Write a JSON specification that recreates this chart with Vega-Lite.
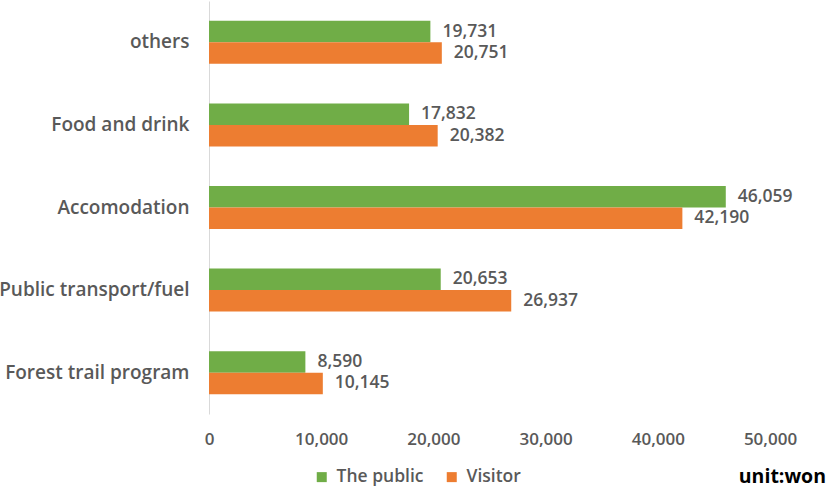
{
  "$schema": "https://vega.github.io/schema/vega-lite/v6.json",
  "width": 561,
  "height": 413,
  "autosize": {"type": "none"},
  "padding": {"left": 209, "top": 1, "right": 57, "bottom": 74},
  "background": "white",
  "config": {
    "view": {"stroke": null},
    "font": "Open Sans"
  },
  "title": {
    "text": "unit:won",
    "orient": "bottom",
    "anchor": "end",
    "frame": "group",
    "dx": 56,
    "dy": -20,
    "offset": 2,
    "fontSize": 19.5,
    "fontWeight": "bold",
    "color": "#000000",
    "font": "Open Sans"
  },
  "data": {
    "values": [
      {"category": "others", "series": "The public", "value": 19731},
      {"category": "others", "series": "Visitor", "value": 20751},
      {"category": "Food and drink", "series": "The public", "value": 17832},
      {"category": "Food and drink", "series": "Visitor", "value": 20382},
      {"category": "Accomodation", "series": "The public", "value": 46059},
      {"category": "Accomodation", "series": "Visitor", "value": 42190},
      {"category": "Public transport/fuel", "series": "The public", "value": 20653},
      {"category": "Public transport/fuel", "series": "Visitor", "value": 26937},
      {"category": "Forest trail program", "series": "The public", "value": 8590},
      {"category": "Forest trail program", "series": "Visitor", "value": 10145}
    ]
  },
  "encoding": {
    "y": {
      "field": "category",
      "type": "nominal",
      "sort": ["others", "Food and drink", "Accomodation", "Public transport/fuel", "Forest trail program"],
      "scale": {"paddingInner": 0.479, "paddingOuter": 0.24},
      "axis": {
        "title": null,
        "ticks": false,
        "domainColor": "#d9d9d9",
        "domainWidth": 1,
        "labelFontSize": 19,
        "labelFontWeight": 600,
        "labelColor": "#595959",
        "labelPadding": 20,
        "labelLimit": 260,
        "labelFont": "Open Sans"
      }
    },
    "yOffset": {"field": "series", "type": "nominal", "sort": ["The public", "Visitor"]},
    "x": {
      "field": "value",
      "type": "quantitative",
      "scale": {"domain": [0, 50000], "nice": false},
      "axis": {
        "title": null,
        "values": [0, 10000, 20000, 30000, 40000, 50000],
        "format": ",d",
        "grid": false,
        "domain": false,
        "ticks": false,
        "labelFontSize": 17,
        "labelFontWeight": 600,
        "labelColor": "#595959",
        "labelPadding": 17,
        "labelFont": "Open Sans",
        "labelFlush": false
      }
    }
  },
  "layer": [
    {
      "mark": {"type": "bar"},
      "encoding": {
        "color": {
          "field": "series",
          "type": "nominal",
          "scale": {"domain": ["The public", "Visitor"], "range": ["#70AD47", "#ED7D31"]},
          "legend": {
            "title": null,
            "orient": "none",
            "direction": "horizontal",
            "legendX": 104,
            "legendY": 467,
            "symbolType": "square",
            "symbolSize": 100,
            "symbolStrokeWidth": 0,
            "labelFontSize": 17.5,
            "labelFontWeight": 600,
            "labelColor": "#595959",
            "labelFont": "Open Sans",
            "columnPadding": 19,
            "labelOffset": 6
          }
        }
      }
    },
    {
      "mark": {"type": "text", "align": "left", "baseline": "middle", "dx": 12, "fontSize": 17.5, "fontWeight": 600, "color": "#595959", "font": "Open Sans"},
      "encoding": {
        "text": {"field": "value", "type": "quantitative", "format": ","}
      }
    }
  ]
}
